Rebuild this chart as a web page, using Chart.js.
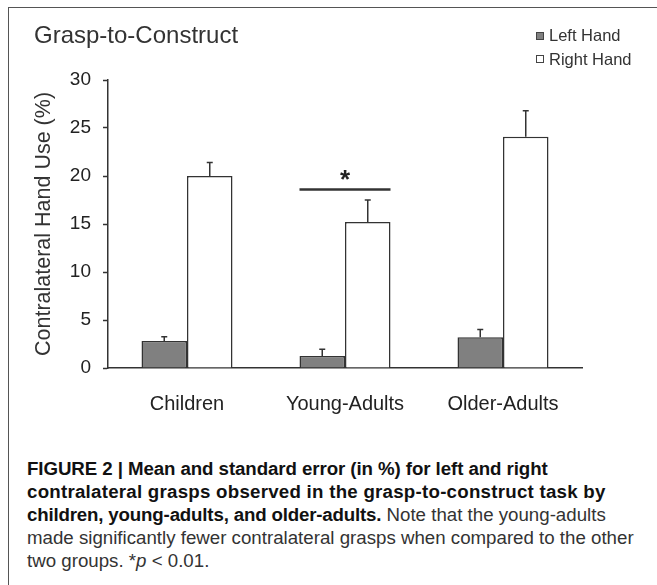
<!DOCTYPE html>
<html>
<head>
<meta charset="utf-8">
<script src="https://cdn.jsdelivr.net/npm/chart.js@4.4.1/dist/chart.umd.min.js"></script>
<style>
  html, body { margin: 0; padding: 0; background: #fff; }
  body { width: 657px; height: 585px; position: relative; overflow: hidden; font-family: "Liberation Sans", Arial, sans-serif; }
  #frame { position: absolute; left: 8px; top: 7px; width: 660px; height: 600px; border-top: 1.5px solid #555; border-left: 1.5px solid #555; }
  #wrap { position: absolute; left: 0; top: 0; width: 657px; height: 440px; }
  #title { position: absolute; left: 34px; top: 21px; font-size: 24px; color: #333; line-height: 28px; white-space: nowrap; }
  #legend { position: absolute; left: 536px; top: 24px; font-size: 16.5px; color: #333; line-height: 23.5px; }
  #legend .item { display: flex; align-items: center; white-space: nowrap; }
  #legend .sw { width: 6px; height: 6px; border: 1px solid #444; margin-right: 5px; }
  #caption { position: absolute; left: 27px; top: 457px; font-size: 18.7px; line-height: 23px; color: #333; white-space: nowrap; }
  #caption b { color: #111; }
</style>
</head>
<body>
<div id="frame"></div>
<div id="wrap"><canvas id="c" width="657" height="440"></canvas></div>
<div id="title">Grasp-to-Construct</div>
<div id="legend"></div>
<div id="caption"><b><span style="letter-spacing:-0.08px">FIGURE 2 | Mean and standard error (in %) for left and right</span><br><span style="letter-spacing:0.25px">contralateral grasps observed in the grasp-to-construct task by</span><br><span style="letter-spacing:-0.17px">children, young-adults, and older-adults.</span></b> Note that the young-adults<br>made significantly fewer contralateral grasps when compared to the other<br>two groups. *<i>p</i> &lt; 0.01.</div>
<script>
// ---- data ----
const categories = ["Children", "Young-Adults", "Older-Adults"];
const seriesNames = ["Left Hand", "Right Hand"];
const leftHand = [2.8, 1.25, 3.2];
const rightHand = [20.0, 15.2, 24.1];
const leftHandSE = [0.45, 0.7, 0.8];
const rightHandSE = [1.4, 2.3, 2.7];
const yTicks = [0, 5, 10, 15, 20, 25, 30];
const sigCategory = "Young-Adults";
const sigLevel = 18.6;
const sigLabel = "*";

const fillColors = ["#808080", "#ffffff"];

// HTML legend built from series
const leg = document.getElementById('legend');
seriesNames.forEach((n, i) => {
  const d = document.createElement('div');
  d.className = 'item';
  d.innerHTML = '<span class="sw" style="background:' + fillColors[i] + '"></span><span>' + n + '</span>';
  leg.appendChild(d);
});

const errorBars = {
  id: 'errorBars',
  afterDatasetsDraw(chart) {
    const ctx = chart.ctx;
    const ys = chart.scales.y;
    const ses = [leftHandSE, rightHandSE];
    ctx.save();
    ctx.strokeStyle = '#333';
    ctx.lineWidth = 1.5;
    chart.data.datasets.forEach((ds, di) => {
      const meta = chart.getDatasetMeta(di);
      meta.data.forEach((bar, i) => {
        const top = ys.getPixelForValue(ds.data[i] + ses[di][i]);
        const y0 = bar.y;
        ctx.beginPath();
        ctx.moveTo(bar.x, y0);
        ctx.lineTo(bar.x, top);
        ctx.moveTo(bar.x - 3, top);
        ctx.lineTo(bar.x + 3, top);
        ctx.stroke();
      });
    });
    // significance line across the group
    const gi = categories.indexOf(sigCategory);
    const b0 = chart.getDatasetMeta(0).data[gi];
    const b1 = chart.getDatasetMeta(1).data[gi];
    const x0 = b0.x - b0.width / 2, x1 = b1.x + b1.width / 2;
    const sy = ys.getPixelForValue(sigLevel);
    ctx.lineWidth = 2.5;
    ctx.beginPath();
    ctx.moveTo(x0, sy);
    ctx.lineTo(x1, sy);
    ctx.stroke();
    ctx.fillStyle = '#222';
    ctx.font = 'bold 26px "Liberation Sans", Arial, sans-serif';
    ctx.textAlign = 'center';
    ctx.textBaseline = 'middle';
    ctx.fillText(sigLabel, (x0 + x1) / 2, sy - 9);
    ctx.restore();
  }
};

new Chart(document.getElementById('c'), {
  type: 'bar',
  data: {
    labels: categories,
    datasets: [
      { label: seriesNames[0], data: leftHand, backgroundColor: fillColors[0], borderColor: '#333', borderWidth: 1.5 },
      { label: seriesNames[1], data: rightHand, backgroundColor: fillColors[1], borderColor: '#333', borderWidth: 1.5 }
    ]
  },
  options: {
    responsive: false,
    animation: false,
    devicePixelRatio: 1,
    layout: { padding: { left: 0, right: 75, top: 80, bottom: 0 } },
    datasets: { bar: { categoryPercentage: 0.576, barPercentage: 1.0 } },
    plugins: { legend: { display: false }, title: { display: false }, tooltip: { enabled: false } },
    scales: {
      x: {
        z: 1,
        grid: { display: true, drawOnChartArea: false, drawTicks: false },
        border: { display: true, color: '#333', width: 1.5 },
        ticks: { color: '#222', font: { size: 20, family: '"Liberation Sans", Arial, sans-serif' }, padding: 24, maxRotation: 0 },
        afterFit(s) { s.height = 72; }
      },
      y: {
        z: 1,
        min: 0, max: 30,
        afterBuildTicks(s) { s.ticks = yTicks.map(v => ({ value: v })); },
        grid: { display: true, drawOnChartArea: false, drawTicks: true, tickLength: 5, tickColor: '#333', tickWidth: 1.5 },
        border: { display: true, color: '#333', width: 1.5 },
        ticks: { color: '#222', font: { size: 19, family: '"Liberation Sans", Arial, sans-serif' }, padding: 12 },
        title: { display: true, text: 'Contralateral Hand Use (%)', color: '#333', font: { size: 21.5, family: '"Liberation Sans", Arial, sans-serif' }, padding: { top: 31, bottom: 0 } },
        afterFit(s) { s.width = 108; }
      }
    }
  },
  plugins: [errorBars]
});
</script>
</body>
</html>
